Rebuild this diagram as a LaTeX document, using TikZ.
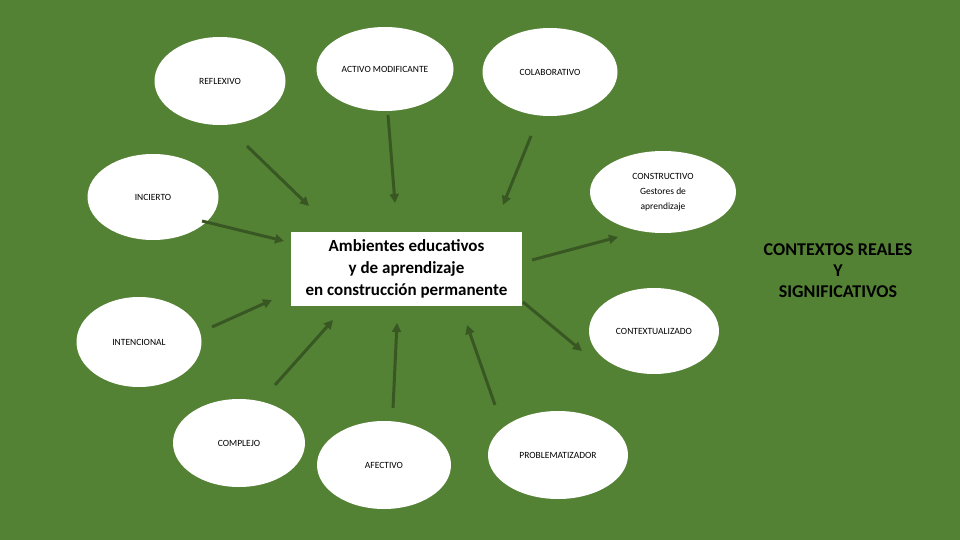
\documentclass[tikz,border=0pt]{standalone}
\usepackage{fontspec}
\setmainfont{Carlito}
\usetikzlibrary{shapes.geometric,arrows.meta}
\definecolor{bg}{HTML}{548235}
\definecolor{arr}{HTML}{385723}
\begin{document}
\begin{tikzpicture}[x=1pt,y=-1pt,
 oval/.style={ellipse,fill=white,draw=none,inner sep=0pt,align=center,font=\fontsize{9.5}{15}\selectfont},
 arrowline/.style={draw=arr,line width=3pt,-{Triangle[length=9pt,width=9pt]}}]
\fill[bg] (0,0) rectangle (960,540);
\useasboundingbox (0,0) rectangle (960,540);
% ellipses
\node[oval,minimum width=131pt,minimum height=88pt] (refl) at (220,81) {REFLEXIVO};
\node[oval,minimum width=137pt,minimum height=84pt] (activo) at (385,69) {ACTIVO MODIFICANTE};
\node[oval,minimum width=135pt,minimum height=88pt] (colab) at (550,72) {COLABORATIVO};
\node[oval,minimum width=146pt,minimum height=82pt] (constr) at (663,192) {CONSTRUCTIVO\\Gestores de\\aprendizaje};
\node[oval,minimum width=131pt,minimum height=86pt] (incierto) at (153,197) {INCIERTO};
\node[oval,minimum width=125pt,minimum height=90pt] (intenc) at (139,342) {INTENCIONAL};
\node[oval,minimum width=130pt,minimum height=86pt] (context) at (654,331) {CONTEXTUALIZADO};
\node[oval,minimum width=132pt,minimum height=88pt] (complejo) at (239,443) {COMPLEJO};
\node[oval,minimum width=134pt,minimum height=88pt] (afectivo) at (384,465) {AFECTIVO};
\node[oval,minimum width=140pt,minimum height=88pt] (problem) at (558,455) {PROBLEMATIZADOR};
% center
\node[fill=white,minimum width=231pt,minimum height=74pt,inner sep=0pt,align=center,
 font=\bfseries\fontsize{17}{22}\selectfont] (center) at (406.5,269)
 {Ambientes educativos\\y de aprendizaje\\en construcción permanente};
\node[align=center,font=\bfseries\fontsize{18}{21}\selectfont] (real) at (838,271)
 {CONTEXTOS REALES\\Y\\SIGNIFICATIVOS};
% arrow endpoints
\coordinate (a1s) at (247,146); \coordinate (a1e) at (309,206);
\coordinate (a2s) at (388,115); \coordinate (a2e) at (395,203);
\coordinate (a3s) at (531,136); \coordinate (a3e) at (503,205);
\coordinate (a4s) at (202,221); \coordinate (a4e) at (284,241);
\coordinate (a5s) at (532,260); \coordinate (a5e) at (618,237);
\coordinate (a6s) at (523,302); \coordinate (a6e) at (582,351);
\coordinate (a7s) at (212,327); \coordinate (a7e) at (272,300);
\coordinate (a8s) at (275,385); \coordinate (a8e) at (333,320);
\coordinate (a9s) at (393,408); \coordinate (a9e) at (397,323);
\coordinate (a10s) at (495,405); \coordinate (a10e) at (467,325);
\foreach \i in {1,...,10} {\draw[arrowline] (a\i s) -- (a\i e);}
\end{tikzpicture}
\end{document}
